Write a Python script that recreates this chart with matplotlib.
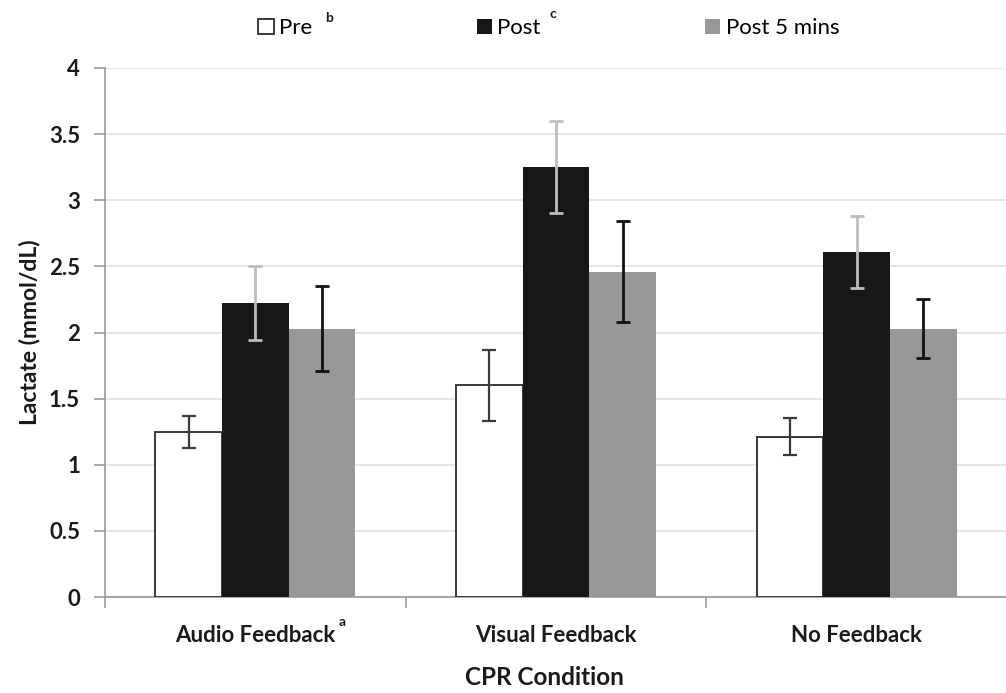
import matplotlib.pyplot as plt
import numpy as np

plt.rcParams['font.family'] = ['Lato', 'DejaVu Sans']

conditions = ['Audio Feedback', 'Visual Feedback', 'No Feedback']
series = ['Pre', 'Post', 'Post 5 mins']
pre = [1.25, 1.60, 1.21]
post = [2.22, 3.25, 2.61]
post5 = [2.03, 2.46, 2.03]
pre_err = [0.12, 0.27, 0.14]
post_err = [0.28, 0.35, 0.27]
post5_err = [0.32, 0.38, 0.22]

fig = plt.figure(figsize=(10.06, 6.93), dpi=100)
ax = fig.add_axes([105 / 1006, 96 / 693, 902 / 1006, 529 / 693])

x = np.arange(len(conditions))
w = 0.222

ax.bar(x - w, pre, w, color='white', edgecolor='#3a3a3a', linewidth=1.4, label=series[0], zorder=3)
ax.bar(x, post, w, color='#161719', label=series[1], zorder=3)
ax.bar(x + w, post5, w, color='#999896', label=series[2], zorder=3)

ax.errorbar(x - w, pre, yerr=pre_err, fmt='none', ecolor='#3a3a3a', elinewidth=1.6, capsize=5, capthick=1.6, zorder=4)
ax.errorbar(x, post, yerr=post_err, fmt='none', ecolor='#bdbdbd', elinewidth=2, capsize=5, capthick=2, zorder=4)
ax.errorbar(x + w, post5, yerr=post5_err, fmt='none', ecolor='#111111', elinewidth=2, capsize=5, capthick=2, zorder=4)

ax.set_xlim(-0.5, 2.5)
ax.set_ylim(0, 4)
ax.set_yticks(np.arange(0, 4.01, 0.5))
ax.set_yticklabels(['0', '0.5', '1', '1.5', '2', '2.5', '3', '3.5', '4'])
ax.yaxis.grid(True, color='#e2e2e2', linewidth=1.2, zorder=0)
ax.set_axisbelow(True)

ax.set_xticks(x)
ax.set_xticklabels(conditions)
ax.set_xticks([-0.5, 0.5, 1.5, 2.5], minor=True)
ax.tick_params(axis='x', which='major', length=0, pad=20, labelsize=16)
ax.tick_params(axis='x', which='minor', length=8, color='#999999', width=1.2)
ax.tick_params(axis='y', length=8, color='#999999', width=1.2, labelsize=16, pad=10)
for lbl in ax.get_xticklabels() + ax.get_yticklabels():
    lbl.set_fontweight('bold')
    lbl.set_color('#1a1a1a')

for side in ['top', 'right']:
    ax.spines[side].set_visible(False)
for side in ['left', 'bottom']:
    ax.spines[side].set_color('#999999')
    ax.spines[side].set_linewidth(1.2)

ax.set_ylabel('Lactate (mmol/dL)', fontsize=16.5, fontweight='bold', color='#1a1a1a', labelpad=6)
ax.set_xlabel('CPR Condition', fontsize=17.5, fontweight='bold', color='#1a1a1a')
ax.xaxis.set_label_coords(0.487, -0.13)

# superscript on the first category label
fig.text(339 / 1006, 1 - 626 / 693, 'a', fontsize=10, fontweight='bold', color='#1a1a1a')

leg = fig.legend(loc='center', bbox_to_anchor=(549 / 1006, 1 - 28 / 693), ncol=3, frameon=False,
                 fontsize=16, handlelength=0.68, handleheight=0.68, handletextpad=0.25,
                 columnspacing=7.4, borderpad=0)

fig.text(325 / 1006, 1 - 22 / 693, 'b', fontsize=10, fontweight='bold', color='#1a1a1a')
fig.text(549 / 1006, 1 - 18 / 693, 'c', fontsize=10, fontweight='bold', color='#1a1a1a')

fig.savefig('out.png', dpi=100)
